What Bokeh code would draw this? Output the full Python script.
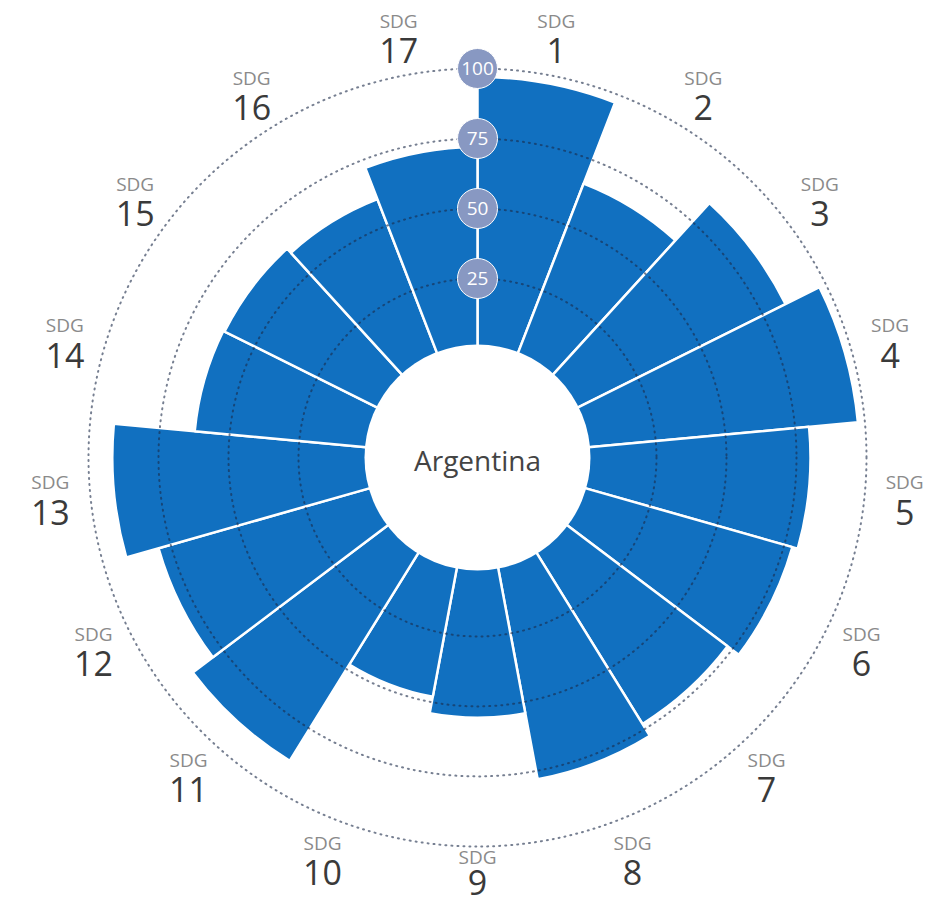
import math
from bokeh.plotting import figure
from bokeh.models import Range1d, ColumnDataSource
from bokeh.core.properties import value
from bokeh.embed import file_html
from bokeh.resources import INLINE

# ---- data ----
country = "Argentina"
goal_numbers = ["1", "2", "3", "4", "5", "6", "7", "8", "9",
                "10", "11", "12", "13", "14", "15", "16", "17"]
goal_prefix = "SDG"
scores = [97, 66, 84, 97.5, 80, 78, 73, 78, 54,
          48, 88.5, 79.5, 91.5, 62.5, 62, 60, 72]
ring_values = [25, 50, 75, 100]
ring_labels = ["25", "50", "75", "100"]

# ---- geometry (1 data unit = 1 px) ----
R0 = 109.0      # radius of a score of 0
K = 2.8         # px per score point
R_LABEL = 429.0
HOLE = 113.0
W, H = 930, 906
CX, CY = 477, 457   # centre position in page pixels


def rad(v):
    return R0 + K * v


n = len(scores)
step = 2 * math.pi / n

starts, ends, outer, mids = [], [], [], []
for i, v in enumerate(scores):
    starts.append(math.pi / 2 - (i + 1) * step)
    ends.append(math.pi / 2 - i * step)
    outer.append(rad(v))
    mids.append((i + 0.5) * step)

x_left, x_right = -CX, W - CX
y_bottom = CY - H
p = figure(width=W, height=H,
           x_range=Range1d(x_left, x_right), y_range=Range1d(y_bottom, CY),
           output_backend="svg", toolbar_location=None, min_border=0)
p.outline_line_color = None
p.axis.visible = False
p.grid.visible = False
p.background_fill_color = "white"

bars = ColumnDataSource(dict(x=[0] * n, y=[0] * n, inner=[R0] * n,
                             outer=outer, start=starts, end=ends))
p.annular_wedge(x="x", y="y", inner_radius="inner", outer_radius="outer",
                start_angle="start", end_angle="end", source=bars,
                fill_color="#1170C0", line_color="white", line_width=2.5)

# dotted rings
p.circle(x=[0] * len(ring_values), y=[0] * len(ring_values),
         radius=[rad(v) for v in ring_values], fill_color=None,
         line_color="#1b2a48", line_alpha=0.6, line_width=2,
         line_dash="1 5", line_cap="round")

# center hole
p.circle(x=[0], y=[0], radius=HOLE, fill_color="white", line_color=None)
p.text(x=[0], y=[-2], text=[country], text_align="center",
       text_baseline="middle", text_font=value("Open Sans"),
       text_font_size="28px", text_color="#444444")

# ring value bubbles
p.circle(x=[0] * len(ring_values), y=[rad(v) for v in ring_values],
         radius=20, fill_color="#8898C2", line_color="white", line_width=1)
p.text(x=[0] * len(ring_values), y=[rad(v) for v in ring_values],
       text=ring_labels, text_align="center", text_baseline="middle",
       text_font=value("Open Sans"), text_font_size="19px",
       text_color="white")

# goal labels (kept inside the canvas at the edges)
lx = [min(R_LABEL * math.sin(a), x_right - 24) for a in mids]
ly = [R_LABEL * math.cos(a) for a in mids]
num_y = [max(y - 15, y_bottom + 24) for y in ly]
sdg_y = [max(y + 15, ny + 26) for y, ny in zip(ly, num_y)]
p.text(x=lx, y=sdg_y, text=[goal_prefix] * n,
       text_align="center", text_baseline="middle",
       text_font=value("Open Sans"), text_font_size="19px",
       text_color="#8a8a8a")
p.text(x=lx, y=num_y, text=goal_numbers,
       text_align="center", text_baseline="middle",
       text_font=value("Open Sans"), text_font_size="34px",
       text_color="#3a3a3a")

open("out.html", "w").write(file_html(p, INLINE))
